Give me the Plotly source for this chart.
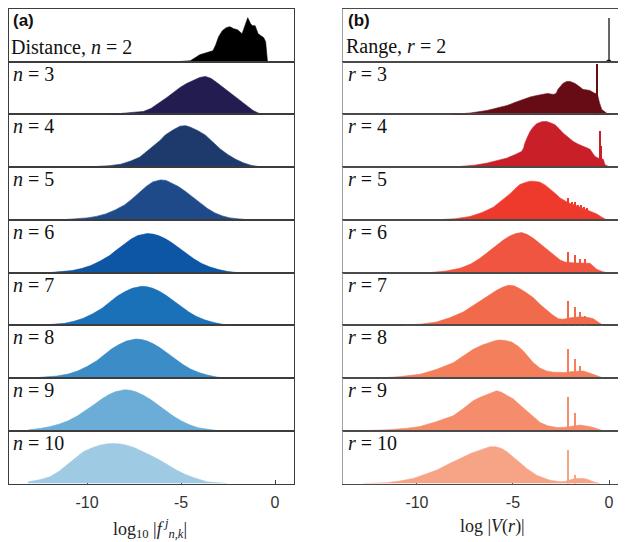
import plotly.graph_objects as go

# ---------------- data ----------------
tick_vals = [-10, -5, 0]
tick_text = ["-10", "-5", "0"]

dist_labels = ["Distance, <i>n</i> = 2", "<i>n</i> = 3", "<i>n</i> = 4", "<i>n</i> = 5",
               "<i>n</i> = 6", "<i>n</i> = 7", "<i>n</i> = 8", "<i>n</i> = 9", "<i>n</i> = 10"]
range_labels = ["Range, <i>r</i> = 2", "<i>r</i> = 3", "<i>r</i> = 4", "<i>r</i> = 5",
                "<i>r</i> = 6", "<i>r</i> = 7", "<i>r</i> = 8", "<i>r</i> = 9", "<i>r</i> = 10"]

dist_colors = ["#000000", "#221c50", "#1e3a6c", "#1f4a8a", "#0d56a5",
               "#1b71b8", "#3b8cc7", "#6badd7", "#9fcae3"]
range_colors = ["#000000", "#670b14", "#c81f28", "#ee3a2c", "#f05541",
                "#f26a4c", "#f47f5d", "#f58c6b", "#f6a386"]

# distance histograms (x = log10|f|, h = bar height in panel units, panel top = 52.7)
dist2_x = [-5.2, -4.5, -4.0, -3.5, -3.3, -3.15, -3.0, -2.8, -2.6, -2.4, -2.2, -2.0, -1.85, -1.75, -1.6, -1.45, -1.3, -1.2, -1.06, -0.9, -0.75, -0.6, -0.5, -0.45, -0.4]
dist2_h = [0, 1, 7, 10, 11, 17, 25, 31, 34, 35, 33, 32, 29, 28, 36, 44, 38, 36, 36, 28, 26, 24, 20, 5, 0]
dist3_x = [-8.8, -8.0, -7.4, -7.0, -6.6, -6.2, -5.75, -5.4, -5.05, -4.7, -4.36, -4.0, -3.7, -3.4, -3.1, -2.75, -2.4, -2.05, -1.7, -1.4, -1.17, -0.9, -0.64]
dist3_h = [0, 1, 2, 3, 6, 11, 17, 22, 27, 31, 34, 37, 38, 36, 32, 27, 22, 17, 12, 7, 4, 1.5, 0]
dist4_x = [-10.1, -9.4, -8.8, -8.2, -7.7, -7.2, -6.8, -6.4, -6.1, -5.85, -5.45, -5.05, -4.75, -4.5, -4.1, -3.7, -3.3, -2.9, -2.5, -2.1, -1.7, -1.3, -0.7]
dist4_h = [0, 0.7, 1.5, 3, 6, 10, 16, 22, 27, 32, 37, 41, 41.5, 40, 36.5, 32, 25, 18, 12.5, 8, 4.5, 2, 0]
dist5_x = [-11.4, -10.6, -10.0, -9.5, -9.0, -8.5, -8.0, -7.6, -7.2, -6.85, -6.5, -6.1, -5.8, -5.5, -5.15, -4.8, -4.4, -4.0, -3.6, -3.2, -2.8, -2.4, -1.9, -1.4]
dist5_h = [0, 1, 2, 3.5, 6, 10, 15, 21, 28, 33.5, 38, 40, 39.5, 37, 33.5, 29, 23, 17, 11.5, 7, 4, 2, 0.7, 0]
dist6_x = [-12.0, -11.3, -10.8, -10.3, -9.8, -9.3, -8.8, -8.4, -8.0, -7.65, -7.3, -6.8, -6.5, -6.2, -5.85, -5.5, -5.1, -4.7, -4.3, -3.9, -3.45, -3.0, -2.5, -2.0]
dist6_h = [0, 1, 2, 4, 7, 11.5, 17, 23, 29, 33.5, 37, 39, 38.5, 37, 34, 30, 24.5, 19, 13.5, 9, 5.5, 3, 1, 0]
dist7_x = [-12.5, -11.8, -11.2, -10.7, -10.2, -9.7, -9.2, -8.8, -8.4, -8.0, -7.6, -7.1, -6.8, -6.5, -6.15, -5.8, -5.4, -5.0, -4.6, -4.2, -3.75, -3.3, -2.8, -2.3]
dist7_h = [0, 1, 2, 4, 7, 11.5, 17, 23, 29, 33.5, 37, 39, 38.5, 37, 34, 30, 24.5, 19, 13.5, 9, 5.5, 3, 1, 0]
dist8_x = [-13.0, -12.3, -11.6, -11.0, -10.5, -10.0, -9.5, -9.1, -8.7, -8.3, -7.9, -7.4, -7.1, -6.8, -6.45, -6.1, -5.7, -5.3, -4.9, -4.5, -4.05, -3.6, -3.1, -2.6]
dist8_h = [0, 1, 2, 4, 7, 11.5, 17, 23, 29, 33.5, 37, 39, 38.5, 37, 34, 30, 24.5, 19, 13.5, 9, 5.5, 3, 1, 0]
dist9_x = [-13.1, -13.1, -12.5, -12.0, -11.5, -11.0, -10.5, -10.0, -9.6, -9.2, -8.85, -8.5, -8.0, -7.7, -7.4, -7.0, -6.6, -6.2, -5.8, -5.4, -5.0, -4.55, -4.1, -3.5, -3.0]
dist9_h = [0, 1, 2.3, 4, 6.5, 10, 15, 21, 26.5, 32, 36, 39, 41, 40.5, 39, 35.5, 31, 25.5, 20, 14.5, 10, 6, 3, 1, 0]
dist10_x = [-13.12, -13.12, -12.5, -11.97, -11.5, -11.08, -10.6, -10.2, -9.75, -9.31, -8.95, -8.6, -8.25, -7.89, -7.45, -7.0, -6.55, -6.12, -5.65, -5.23, -4.8, -4.35, -3.63, -2.57]
dist10_h = [0, 1.7, 3.8, 6.7, 12, 18.3, 25.5, 31.7, 35.5, 38.3, 39.6, 40, 39.6, 38.3, 35.5, 31.7, 27.5, 23.3, 18, 13.3, 9.3, 6, 1.7, 0]

# range histograms (x = log|V(r)|)
range2_x = [-0.15, -0.1, 0.08, 0.12]
range2_h = [0, 1.5, 1.5, 0]
range3_x = [-8.1, -7.2, -6.35, -5.8, -5.3, -4.9, -4.5, -4.1, -3.75, -3.45, -3.2, -2.9, -2.75, -2.66, -2.5, -2.4, -2.2, -2.03, -1.9, -1.77, -1.55, -1.35, -1.15, -1.0, -0.82, -0.7, -0.6, -0.5, -0.38, -0.1, 0.05]
range3_h = [0, 1.5, 4, 6.5, 9, 12, 15, 17.5, 19, 20, 21, 20, 21, 25, 29, 31, 33, 33, 32, 31, 28, 25, 24.5, 24, 22, 21, 20, 12, 5, 1, 0]
range4_x = [-7.76, -7.0, -6.37, -5.8, -5.33, -4.9, -4.55, -4.45, -4.38, -4.25, -4.11, -3.95, -3.77, -3.5, -3.25, -3.0, -2.81, -2.6, -2.38, -2.1, -1.86, -1.6, -1.34, -1.15, -0.99, -0.85, -0.73, -0.56, -0.3, -0.21, 0.05]
range4_h = [0.7, 2, 4, 6.5, 9, 12.5, 15.7, 19, 24, 30, 35.7, 40, 43.3, 45.5, 45.7, 44, 42.3, 38.5, 34, 29.5, 25.7, 23, 20.7, 19.5, 18, 14, 10.7, 9, 8, 2.3, 0]
range5_x = [-8.98, -8.0, -7.24, -6.6, -6.02, -5.6, -5.16, -4.9, -4.64, -4.35, -4.11, -3.85, -3.59, -3.3, -3.07, -2.8, -2.55, -2.3, -2.1, -1.8, -1.51, -1.25, -0.99, -0.64, -0.35, -0.12]
range5_h = [0, 1.2, 3.3, 7.5, 12.7, 19, 26, 31, 35.3, 37.5, 38.7, 38.5, 37.7, 34.5, 31, 26.5, 22, 19, 17, 15, 12.7, 11, 9.3, 6, 2.5, 0]
range6_x = [-9.32, -8.5, -7.76, -7.2, -6.72, -6.3, -5.85, -5.5, -5.16, -4.85, -4.55, -4.25, -3.94, -3.6, -3.25, -2.9, -2.55, -2.3, -2.12, -1.8, -1.5, -1.2, -0.99, -0.8, -0.64, -0.35, -0.12]
range6_h = [0, 1.5, 4.3, 8.5, 14.3, 20.5, 27.7, 32.5, 36.7, 39, 40, 38, 34.3, 29, 23.3, 17.5, 12.7, 10.5, 10, 9.7, 9.5, 9.4, 9.3, 6, 3.3, 1, 0]
range7_x = [-10.7, -9.8, -8.98, -8.3, -7.59, -7.05, -6.55, -6.2, -5.85, -5.55, -5.24, -4.95, -4.64, -4.3, -3.94, -3.6, -3.25, -2.95, -2.64, -2.4, -2.0, -1.51, -1.15, -0.82, -0.55, -0.3]
range7_h = [0, 1.2, 3.3, 7.5, 13.3, 20, 26.7, 31, 35, 38, 40, 39.5, 36.7, 32.5, 27.7, 21, 15, 10.5, 6.7, 6, 7.5, 8.5, 8, 6.7, 3, 0]
range8_x = [-12.1, -11.0, -9.84, -9.0, -8.11, -7.6, -7.07, -6.6, -6.2, -5.9, -5.68, -5.4, -5.07, -4.75, -4.46, -4.2, -3.94, -3.6, -3.25, -2.9, -2.55, -2.3, -1.9, -1.34, -0.82, -0.55, -0.3]
range8_h = [0, 1.2, 3.7, 8.5, 15.3, 21.5, 28.7, 33, 36, 37.5, 38, 37.5, 36, 32, 27, 21, 15.3, 10, 7, 5.8, 5.3, 5.5, 6.5, 7, 3.7, 1.5, 0]
range9_x = [-13.0, -11.5, -10.5, -9.84, -9.0, -8.11, -7.6, -7.07, -6.7, -6.37, -6.1, -5.85, -5.6, -5.3, -4.98, -4.65, -4.29, -3.95, -3.59, -3.2, -2.72, -2.3, -1.9, -1.51, -1.1, -0.82, -0.3]
range9_h = [0, 1, 2.5, 4.3, 9, 15, 22, 30, 33.5, 36, 38.5, 40, 38.5, 35.5, 31.7, 26, 20, 13.5, 8.3, 5, 3.3, 3.5, 5, 5.7, 4.5, 3.3, 0]
range10_x = [-12.8, -11.58, -10.9, -10.19, -9.6, -8.98, -8.4, -7.76, -7.2, -6.72, -6.45, -6.2, -5.9, -5.59, -5.3, -4.98, -4.65, -4.29, -3.77, -3.4, -3.07, -2.55, -2.3, -1.77, -1.34, -1.1, -0.82, -0.47]
range10_h = [0, 0.7, 2.5, 5, 9, 13.3, 19, 25, 30, 33.3, 35.3, 36.7, 36.7, 35, 31.5, 26.7, 21, 15, 8.3, 5.5, 3.3, 1.7, 2, 5, 5, 4, 1.7, 0]

# narrow spikes (x position, height)
range2_spike_x = [-0.02]
range2_spike_h = [44]
range3_spike_x = [-0.63]
range3_spike_h = [51]
range4_spike_x = [-0.47, -0.4]
range4_spike_h = [35.7, 20.7]
range5_spike_x = [-2.12, -1.95, -1.77, -1.6, -1.45, -1.3, -1.15]
range5_spike_h = [22, 18, 18, 15, 15, 13, 12]
range6_spike_x = [-2.12, -1.77, -1.51, -1.25]
range6_spike_h = [21, 17.7, 13.3, 13.7]
range7_spike_x = [-2.12, -1.77, -1.51, -1.25]
range7_spike_h = [25, 18.3, 13.3, 10]
range8_spike_x = [-2.12, -1.77, -1.51]
range8_spike_h = [28.7, 18.7, 12]
range9_spike_x = [-2.12, -1.77]
range9_spike_h = [33.3, 17.7]
range10_spike_x = [-2.12, -1.77]
range10_spike_h = [33.3, 8.3]

dist_x = [dist2_x, dist3_x, dist4_x, dist5_x, dist6_x, dist7_x, dist8_x, dist9_x, dist10_x]
dist_h = [dist2_h, dist3_h, dist4_h, dist5_h, dist6_h, dist7_h, dist8_h, dist9_h, dist10_h]
range_x = [range2_x, range3_x, range4_x, range5_x, range6_x, range7_x, range8_x, range9_x, range10_x]
range_h = [range2_h, range3_h, range4_h, range5_h, range6_h, range7_h, range8_h, range9_h, range10_h]
range_sx = [range2_spike_x, range3_spike_x, range4_spike_x, range5_spike_x, range6_spike_x,
            range7_spike_x, range8_spike_x, range9_spike_x, range10_spike_x]
range_sh = [range2_spike_h, range3_spike_h, range4_spike_h, range5_spike_h, range6_spike_h,
            range7_spike_h, range8_spike_h, range9_spike_h, range10_spike_h]

# ---------------- layout ----------------
# the page body has an 8px margin, so the figure is 8px smaller and all
# page-pixel positions are shifted by OFF
OFF = 8
W, H = 626 - OFF, 542 - OFF
TOP, BOT = 9.0, 483.5          # page pixels
PH = (BOT - TOP) / 9
PANEL_MAX = PH
LEFT_PX = (9, 294)
RIGHT_PX = (343, 626)
LEFT_RANGE = [-14.15, 1.01]
RIGHT_RANGE = [-13.85, 0.885]

SERIF = "Liberation Serif"
SANS = "Liberation Sans"


def px2x(px):
    return (px - OFF) / W


def px2y(py):
    return 1 - (py - OFF) / H


fig = go.Figure()
layout = dict(width=W, height=H, margin=dict(l=0, r=0, t=0, b=0),
              paper_bgcolor="white", plot_bgcolor="white", showlegend=False,
              bargap=0)
annotations = []

for col in range(2):
    for row in range(9):
        k = col * 9 + row + 1
        xa = "xaxis" if k == 1 else f"xaxis{k}"
        ya = "yaxis" if k == 1 else f"yaxis{k}"
        xr = "x" if k == 1 else f"x{k}"
        yr = "y" if k == 1 else f"y{k}"
        top = TOP + row * PH
        ydom = [px2y(top + PH), px2y(top)]
        last = row == 8
        if col == 0:
            xs, hs, color = dist_x[row], dist_h[row], dist_colors[row]
            xdom = [px2x(LEFT_PX[0]), px2x(LEFT_PX[1])]
            xrange_ = LEFT_RANGE
            lcol, ycol = "#3c3c3c", "#3c3c3c"
        else:
            xs, hs, color = range_x[row], range_h[row], range_colors[row]
            xdom = [px2x(RIGHT_PX[0]), min(1.0, px2x(RIGHT_PX[1]))]
            xrange_ = RIGHT_RANGE
            lcol, ycol = "#4a4a4a", "#a0a0a0"
        fig.add_trace(go.Scatter(x=xs, y=hs, mode="lines", fill="tozeroy",
                                 fillcolor=color, line=dict(width=0.6, color=color),
                                 xaxis=xr, yaxis=yr, hoverinfo="skip"))
        if col == 1:
            fig.add_trace(go.Bar(x=range_sx[row], y=range_sh[row], width=0.05,
                                 marker=dict(color=color if row > 0 else "#666666",
                                             line=dict(width=0)),
                                 xaxis=xr, yaxis=yr, hoverinfo="skip"))
        layout[xa] = dict(domain=xdom, range=xrange_, anchor=yr,
                          showline=True, linecolor=lcol, linewidth=1, mirror=True,
                          showgrid=False, zeroline=False,
                          tickvals=tick_vals, ticktext=tick_text,
                          ticks="inside" if last else "", ticklen=4, tickcolor=lcol,
                          showticklabels=last, layer="below traces",
                          tickfont=dict(family=SANS, size=16, color="#333333"),
                          ticklabelstandoff=4)
        layout[ya] = dict(domain=ydom, range=[0, PANEL_MAX], anchor=xr,
                          showline=True, linecolor=ycol, linewidth=1,
                          mirror=(col == 0), showgrid=False, zeroline=False,
                          showticklabels=False, ticks="")
        labels = dist_labels if col == 0 else range_labels
        lx = 10 if col == 0 else 345
        if row == 0:
            annotations.append(dict(x=px2x(lx + 1), y=px2y(20), xref="paper", yref="paper",
                                    text="<b>(a)</b>" if col == 0 else "<b>(b)</b>",
                                    showarrow=False, xanchor="left", yanchor="middle",
                                    font=dict(family=SANS, size=17, color="#111111")))
            annotations.append(dict(x=px2x(lx - 1), y=px2y(47), xref="paper", yref="paper",
                                    text=labels[row], showarrow=False,
                                    xanchor="left", yanchor="middle",
                                    font=dict(family=SERIF, size=20, color="#111111")))
        else:
            annotations.append(dict(x=px2x(lx + 1), y=px2y(top + 12), xref="paper", yref="paper",
                                    text=labels[row], showarrow=False,
                                    xanchor="left", yanchor="middle",
                                    font=dict(family=SERIF, size=20, color="#111111")))

annotations.append(dict(x=px2x(150), y=px2y(528), xref="paper", yref="paper",
                        text="log<sub>10</sub> |<i>f</i><sup> <i>j</i></sup><sub><i>n,k</i></sub>|",
                        showarrow=False, xanchor="center", yanchor="middle",
                        font=dict(family=SERIF, size=18, color="#222222")))
annotations.append(dict(x=px2x(492), y=px2y(526), xref="paper", yref="paper",
                        text="log |<i>V</i>(<i>r</i>)|",
                        showarrow=False, xanchor="center", yanchor="middle",
                        font=dict(family=SERIF, size=18, color="#222222")))
layout["annotations"] = annotations
fig.update_layout(**layout)
fig.write_html("out.html")
